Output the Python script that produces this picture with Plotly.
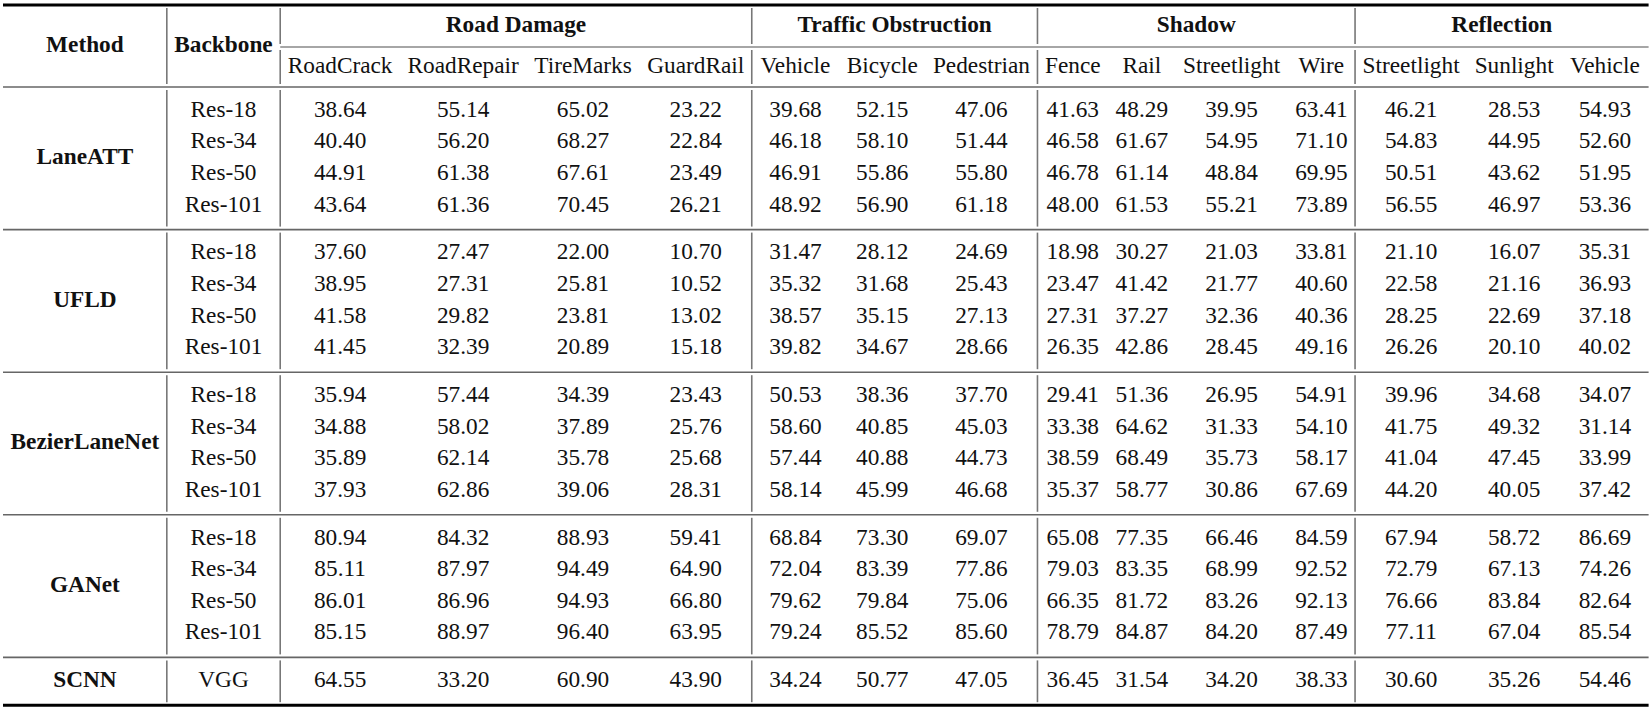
import plotly.graph_objects as go

# ---- table content ----
methods = ["LaneATT", "UFLD", "BezierLaneNet", "GANet", "SCNN"]
backbones = [["Res-18", "Res-34", "Res-50", "Res-101"]] * 4 + [["VGG"]]
groups = ["Road Damage", "Traffic Obstruction", "Shadow", "Reflection"]
group_sizes = [4, 3, 4, 3]
subcats = ["RoadCrack", "RoadRepair", "TireMarks", "GuardRail",
           "Vehicle", "Bicycle", "Pedestrian",
           "Fence", "Rail", "Streetlight", "Wire",
           "Streetlight", "Sunlight", "Vehicle"]

laneatt = [
    [38.64, 55.14, 65.02, 23.22, 39.68, 52.15, 47.06, 41.63, 48.29, 39.95, 63.41, 46.21, 28.53, 54.93],
    [40.40, 56.20, 68.27, 22.84, 46.18, 58.10, 51.44, 46.58, 61.67, 54.95, 71.10, 54.83, 44.95, 52.60],
    [44.91, 61.38, 67.61, 23.49, 46.91, 55.86, 55.80, 46.78, 61.14, 48.84, 69.95, 50.51, 43.62, 51.95],
    [43.64, 61.36, 70.45, 26.21, 48.92, 56.90, 61.18, 48.00, 61.53, 55.21, 73.89, 56.55, 46.97, 53.36],
]
ufld = [
    [37.60, 27.47, 22.00, 10.70, 31.47, 28.12, 24.69, 18.98, 30.27, 21.03, 33.81, 21.10, 16.07, 35.31],
    [38.95, 27.31, 25.81, 10.52, 35.32, 31.68, 25.43, 23.47, 41.42, 21.77, 40.60, 22.58, 21.16, 36.93],
    [41.58, 29.82, 23.81, 13.02, 38.57, 35.15, 27.13, 27.31, 37.27, 32.36, 40.36, 28.25, 22.69, 37.18],
    [41.45, 32.39, 20.89, 15.18, 39.82, 34.67, 28.66, 26.35, 42.86, 28.45, 49.16, 26.26, 20.10, 40.02],
]
bezier = [
    [35.94, 57.44, 34.39, 23.43, 50.53, 38.36, 37.70, 29.41, 51.36, 26.95, 54.91, 39.96, 34.68, 34.07],
    [34.88, 58.02, 37.89, 25.76, 58.60, 40.85, 45.03, 33.38, 64.62, 31.33, 54.10, 41.75, 49.32, 31.14],
    [35.89, 62.14, 35.78, 25.68, 57.44, 40.88, 44.73, 38.59, 68.49, 35.73, 58.17, 41.04, 47.45, 33.99],
    [37.93, 62.86, 39.06, 28.31, 58.14, 45.99, 46.68, 35.37, 58.77, 30.86, 67.69, 44.20, 40.05, 37.42],
]
ganet = [
    [80.94, 84.32, 88.93, 59.41, 68.84, 73.30, 69.07, 65.08, 77.35, 66.46, 84.59, 67.94, 58.72, 86.69],
    [85.11, 87.97, 94.49, 64.90, 72.04, 83.39, 77.86, 79.03, 83.35, 68.99, 92.52, 72.79, 67.13, 74.26],
    [86.01, 86.96, 94.93, 66.80, 79.62, 79.84, 75.06, 66.35, 81.72, 83.26, 92.13, 76.66, 83.84, 82.64],
    [85.15, 88.97, 96.40, 63.95, 79.24, 85.52, 85.60, 78.79, 84.87, 84.20, 87.49, 77.11, 67.04, 85.54],
]
scnn = [
    [64.55, 33.20, 60.90, 43.90, 34.24, 50.77, 47.05, 36.45, 31.54, 34.20, 38.33, 30.60, 35.26, 54.46],
]
values = [laneatt, ufld, bezier, ganet, scnn]

# ---- layout geometry (px) ----
W, H = 1650, 710
FONT = "'Liberation Serif', 'Times New Roman', Times, serif"
FS = 23.3
SEP = 7.5
LEFT = 3
# natural column widths in em (Times metrics): Method, Backbone, then data columns
col_em = [6.387, 4.223, 4.499, 4.777, 4.221, 4.166, 3.110, 3.055, 4.166,
          2.388, 2.25, 4.167, 2.25, 4.167, 3.390, 3.110]
edges = [LEFT]
for w in col_em:
    edges.append(edges[-1] + w * FS + 2 * SEP)
centers = [(a + b) / 2 for a, b in zip(edges[:-1], edges[1:])]
RIGHT = edges[-1]

TOP, CLINE, MID = 5, 47, 87
ROW_H, PAD = 31.6, 16.2

band_tops = []
y = MID
for bb in backbones:
    band_tops.append(y)
    y += len(bb) * ROW_H + PAD
BOTTOM = y

# ---- text ----
xs, ys, txt = [], [], []

def put(x, yy, s, b=False):
    xs.append(x); ys.append(yy); txt.append("<b>%s</b>" % s if b else s)

put(centers[0], (TOP + MID) / 2, "Method", True)
put(centers[1], (TOP + MID) / 2, "Backbone", True)
start = 2
group_bounds = []
for g, n in zip(groups, group_sizes):
    put((edges[start] + edges[start + n]) / 2, (TOP + CLINE) / 2, g, True)
    group_bounds.append(edges[start + n])
    start += n
for j, s in enumerate(subcats):
    put(centers[j + 2], (CLINE + MID) / 2, s)

for k, (m, bb, rows) in enumerate(zip(methods, backbones, values)):
    y0 = band_tops[k]
    hband = len(bb) * ROW_H + PAD
    put(centers[0], y0 + hband / 2, m, True)
    for i, (b, row) in enumerate(zip(bb, rows)):
        yy = y0 + PAD / 2 + ROW_H * (i + 0.5)
        put(centers[1], yy, b)
        for j, v in enumerate(row):
            put(centers[j + 2], yy, "%.2f" % v)

fig = go.Figure(go.Scatter(
    x=xs, y=ys, text=txt, mode="text", textposition="middle center",
    textfont=dict(family=FONT, size=FS, color="#111111"), hoverinfo="skip"))

# ---- rules ----
shapes = []

def hline(yy, x0, x1, w, c):
    shapes.append(dict(type="line", x0=x0, x1=x1, y0=yy, y1=yy,
                       line=dict(color=c, width=w), layer="above"))

def vline(x, y0, y1, gap=3):
    shapes.append(dict(type="line", x0=x, x1=x, y0=y0 + gap, y1=y1 - gap,
                       line=dict(color="#777777", width=1.6), layer="above"))

hline(TOP, LEFT, RIGHT, 3, "#000000")
hline(CLINE, edges[2], RIGHT, 1.3, "#888888")
hline(MID, LEFT, RIGHT, 1.6, "#666666")
for t in band_tops[1:]:
    hline(t, LEFT, RIGHT, 1.6, "#666666")
hline(BOTTOM, LEFT, RIGHT, 3, "#000000")

vline(edges[1], TOP, MID)
vline(edges[2], TOP, CLINE)
vline(edges[2], CLINE, MID)
for gx in group_bounds[:-1]:
    vline(gx, TOP, CLINE)
    vline(gx, CLINE, MID)
band_edges = band_tops + [BOTTOM]
for a, b in zip(band_edges[:-1], band_edges[1:]):
    for x in [edges[1], edges[2]] + group_bounds[:-1]:
        vline(x, a, b)

fig.update_layout(
    width=W, height=H, margin=dict(l=0, r=0, t=0, b=0),
    paper_bgcolor="white", plot_bgcolor="white", showlegend=False,
    xaxis=dict(range=[0, W], visible=False, fixedrange=True),
    yaxis=dict(range=[H, 0], visible=False, fixedrange=True),
    shapes=shapes)

# the page body has a default 8px margin; drop it so the table sits at the window origin
fig.write_html("out.html", config={"displayModeBar": False},
               post_script="document.body.style.margin='0px';"
                           "document.body.style.overflow='hidden';")
